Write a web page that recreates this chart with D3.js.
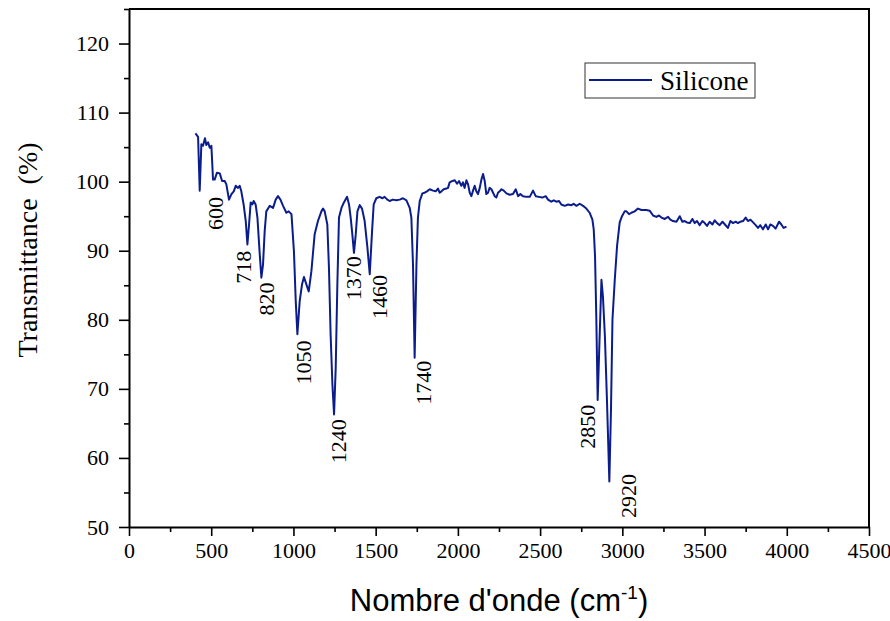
<!DOCTYPE html>
<html>
<head>
<meta charset="utf-8">
<script src="https://cdn.jsdelivr.net/npm/d3@7"></script>
<style>
  body { margin: 0; background: #fff; }
  text { fill: #000; }
  .serif { font-family: "Liberation Serif", "Times New Roman", Times, "DejaVu Serif", serif; }
</style>
</head>
<body>
<div id="chart"></div>
<script>
// FTIR spectrum of silicone
const wavenumber = [
  404, 420, 430, 440, 450, 462, 470, 481, 491, 501, 511, 521, 535, 552, 566, 582, 592, 608, 623, 637,
  649, 663, 673, 683, 697, 710, 720, 730, 740, 750, 758, 770, 781, 795, 805, 815, 825, 835, 856, 876,
  892, 906, 921, 937, 957, 971, 988, 1003, 1014, 1024, 1038, 1052, 1064, 1079, 1093, 1109, 1129, 1149, 1170, 1180,
  1190, 1206, 1216, 1226, 1237, 1247, 1257, 1267, 1277, 1292, 1307, 1326, 1338, 1348, 1358, 1368, 1379, 1389, 1403, 1417,
  1433, 1450, 1464, 1478, 1488, 1504, 1524, 1541, 1554, 1571, 1585, 1605, 1626, 1646, 1666, 1687, 1707, 1717, 1727, 1737,
  1748, 1757, 1768, 1784, 1798, 1812, 1829, 1849, 1865, 1879, 1889, 1900, 1914, 1930, 1940, 1950, 1967, 1981, 1995, 2007,
  2021, 2031, 2041, 2052, 2062, 2072, 2082, 2092, 2102, 2112, 2122, 2133, 2143, 2153, 2163, 2173, 2183, 2193, 2204, 2214,
  2224, 2234, 2244, 2254, 2265, 2279, 2295, 2315, 2335, 2352, 2366, 2380, 2396, 2417, 2437, 2457, 2473, 2493, 2514, 2534,
  2548, 2568, 2583, 2599, 2615, 2629, 2650, 2670, 2690, 2704, 2721, 2741, 2761, 2781, 2801, 2818, 2826, 2834, 2842, 2850,
  2862, 2873, 2882, 2894, 2907, 2921, 2931, 2940, 2954, 2968, 2984, 2998, 3014, 3025, 3041, 3055, 3075, 3095, 3116, 3146,
  3166, 3187, 3207, 3223, 3238, 3258, 3278, 3292, 3308, 3329, 3349, 3365, 3379, 3393, 3410, 3426, 3440, 3454, 3470, 3487,
  3501, 3515, 3531, 3548, 3562, 3576, 3592, 3609, 3624, 3642, 3657, 3673, 3689, 3703, 3718, 3734, 3750, 3764, 3779, 3795,
  3811, 3825, 3839, 3855, 3872, 3886, 3900, 3916, 3932, 3953, 3967, 3981, 3998
];
const transmittance = [
  107.0, 106.5, 98.7, 105.4, 105.2, 106.3, 105.3, 105.7, 104.9, 105.2, 100.3, 100.3, 101.3, 101.2, 100.1, 100.1, 99.6, 97.4, 98.2, 98.6,
  99.4, 99.1, 99.4, 98.6, 96.7, 94.3, 90.9, 93.8, 97.0, 96.7, 97.2, 96.7, 94.8, 89.5, 86.1, 88.0, 92.8, 95.7, 96.5, 96.2,
  97.4, 97.9, 97.4, 96.5, 95.5, 95.7, 95.3, 89.9, 82.7, 77.9, 82.7, 85.1, 86.2, 85.1, 84.1, 87.0, 92.4, 94.3, 95.7, 96.1,
  95.7, 93.8, 87.5, 77.9, 70.6, 66.3, 73.0, 85.1, 94.8, 96.2, 97.0, 97.8, 96.7, 94.8, 92.4, 89.7, 92.4, 95.7, 96.6, 96.1,
  94.3, 90.4, 86.6, 92.8, 96.7, 97.6, 97.8, 97.6, 97.8, 97.4, 97.2, 97.4, 97.3, 97.4, 97.6, 97.3, 96.2, 94.8, 88.0, 74.5,
  88.0, 94.8, 97.2, 98.3, 98.4, 98.6, 98.9, 98.7, 98.6, 99.0, 98.4, 98.6, 98.9, 99.0, 99.1, 99.9, 100.1, 100.2, 99.7, 100.1,
  99.4, 99.9, 99.1, 100.2, 99.6, 98.4, 97.9, 98.7, 99.4, 98.6, 98.2, 99.1, 100.3, 101.1, 100.1, 98.2, 98.4, 99.1, 98.9, 98.4,
  97.9, 97.7, 98.4, 98.6, 98.9, 98.7, 98.3, 98.1, 98.2, 98.9, 97.9, 98.2, 97.9, 97.8, 97.8, 98.7, 97.9, 97.8, 97.7, 97.9,
  97.4, 97.1, 97.3, 97.1, 97.2, 96.7, 96.5, 96.7, 96.6, 96.8, 96.5, 96.8, 96.5, 96.1, 95.5, 94.5, 93.1, 89.2, 80.0, 68.4,
  77.6, 85.8, 83.4, 77.6, 68.0, 56.6, 67.0, 80.0, 85.8, 90.7, 94.1, 95.0, 95.7, 95.7, 95.3, 95.5, 95.7, 96.1, 95.9, 95.9,
  95.8, 95.1, 94.9, 95.1, 94.8, 94.6, 94.9, 94.5, 94.3, 94.2, 95.0, 94.2, 94.3, 94.1, 94.0, 94.6, 94.0, 94.3, 93.7, 94.3,
  94.0, 93.6, 94.2, 93.8, 94.4, 94.0, 93.7, 94.2, 93.8, 93.3, 94.3, 94.0, 94.2, 94.0, 94.2, 94.3, 94.8, 94.3, 94.5, 94.1,
  93.7, 93.3, 93.7, 93.1, 93.8, 93.1, 93.8, 93.6, 93.2, 94.2, 93.8, 93.3, 93.5
];

// axis ticks
const xTicks = [0, 500, 1000, 1500, 2000, 2500, 3000, 3500, 4000, 4500];
const xMinorTicks = [250, 750, 1250, 1750, 2250, 2750, 3250, 3750, 4250];
const yTicks = [50, 60, 70, 80, 90, 100, 110, 120];
const yMinorTicks = [55, 65, 75, 85, 95, 105, 115, 125];

// peak annotations: label, wavenumber and transmittance of the label centre
const peakLabels = ['600', '718', '820', '1050', '1240', '1370', '1460', '1740', '2850', '2920'];
const peakLabelX = [527, 697, 837, 1062, 1275, 1365, 1524, 1792, 2789, 3039];
const peakLabelY = [95.4, 87.6, 83.0, 73.8, 62.4, 86.0, 83.3, 70.9, 64.5, 54.5];

const seriesName = 'Silicone';
const lineColor = '#0b1d8c';

const width = 890;
const height = 621;
const margin = { top: 9, right: 21, bottom: 94, left: 129 };

const svg = d3.select('#chart')
  .append('svg')
  .attr('width', width)
  .attr('height', height);

const x = d3.scaleLinear()
  .domain([0, 4500])
  .range([margin.left, width - margin.right]);

const y = d3.scaleLinear()
  .domain([50, 125])
  .range([height - margin.bottom, margin.top]);

// frame (top and right)
svg.append('path')
  .attr('d', `M${x(0)},${y(125)}H${x(4500)}V${y(50)}`)
  .attr('fill', 'none')
  .attr('stroke', '#000')
  .attr('stroke-width', 2);

// spectrum
const points = wavenumber.map((w, i) => [w, transmittance[i]]);
svg.append('path')
  .datum(points)
  .attr('fill', 'none')
  .attr('stroke', lineColor)
  .attr('stroke-width', 2)
  .attr('stroke-linejoin', 'round')
  .attr('d', d3.line().x(d => x(d[0])).y(d => y(d[1])));

// x axis
svg.append('g')
  .attr('transform', `translate(0,${y(50)})`)
  .call(d3.axisBottom(x).tickValues(xTicks).tickSize(9).tickSizeOuter(0).tickPadding(6).tickFormat(d3.format('d')));
svg.append('g')
  .attr('transform', `translate(0,${y(50)})`)
  .call(d3.axisBottom(x).tickValues(xMinorTicks).tickSize(5).tickFormat(''))
  .select('.domain').remove();

// y axis
svg.append('g')
  .attr('transform', `translate(${x(0)},0)`)
  .call(d3.axisLeft(y).tickValues(yTicks).tickSize(10).tickSizeOuter(0).tickPadding(10));
svg.append('g')
  .attr('transform', `translate(${x(0)},0)`)
  .call(d3.axisLeft(y).tickValues(yMinorTicks).tickSize(5).tickFormat(''))
  .select('.domain').remove();

svg.selectAll('g').attr('font-family', null).attr('font-size', null);
svg.selectAll('.domain').attr('stroke-width', 2);
svg.selectAll('.tick line').attr('stroke-width', 1.6);
svg.selectAll('.tick text')
  .attr('class', 'serif')
  .style('font-size', '22px')
  .attr('fill', '#000');

// peak labels
svg.append('g')
  .selectAll('text')
  .data(peakLabels)
  .enter()
  .append('text')
  .attr('class', 'serif')
  .attr('transform', (d, i) => `translate(${x(peakLabelX[i])},${y(peakLabelY[i])}) rotate(-90)`)
  .attr('text-anchor', 'middle')
  .attr('dominant-baseline', 'central')
  .style('font-size', '22px')
  .text(d => d);

// axis titles
svg.append('text')
  .attr('class', 'serif')
  .attr('transform', `translate(27,250) rotate(-90)`)
  .attr('text-anchor', 'middle')
  .attr('dominant-baseline', 'central')
  .style('font-size', '28px')
  .style('white-space', 'pre')
  .text('Transmittance  (%)');

const xTitle = svg.append('text')
  .attr('x', (x(0) + x(4500)) / 2)
  .attr('y', 611)
  .attr('text-anchor', 'middle')
  .style('font-family', '"Liberation Sans", Arial, sans-serif')
  .style('font-size', '31px');
xTitle.append('tspan').text("Nombre d'onde (cm");
xTitle.append('tspan').attr('dy', -12).style('font-size', '19px').text('-1');
xTitle.append('tspan').attr('dy', 12).text(')');

// legend
const legend = svg.append('g').attr('transform', 'translate(585,63)');
legend.append('rect')
  .attr('width', 170)
  .attr('height', 35)
  .attr('fill', '#fff')
  .attr('stroke', '#333')
  .attr('stroke-width', 1);
legend.append('line')
  .attr('x1', 4).attr('x2', 67)
  .attr('y1', 17).attr('y2', 17)
  .attr('stroke', lineColor)
  .attr('stroke-width', 2);
legend.append('text')
  .attr('class', 'serif')
  .attr('x', 75)
  .attr('y', 27)
  .style('font-size', '27px')
  .text(seriesName);
</script>
</body>
</html>
